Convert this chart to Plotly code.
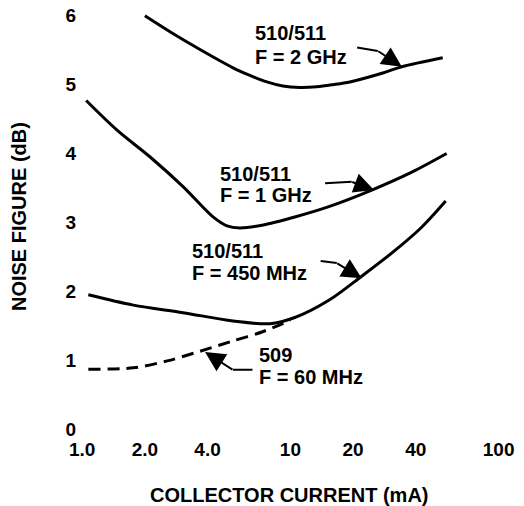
import numpy as np
import plotly.graph_objects as go

# ---- data (collector current in mA, noise figure in dB) ----
ic_2ghz = [2.0, 2.70, 3.68, 5.30, 6.39, 7.71, 9.20, 11.1, 13.4, 16.0, 19.3, 27.8, 34.3, 53.9]
nf_2ghz = [6.0, 5.75, 5.51, 5.245, 5.135, 5.04, 4.98, 4.96, 4.97, 5.00, 5.04, 5.17, 5.26, 5.39]

ic_1ghz = [1.045, 1.47, 2.12, 3.05, 4.25, 4.96, 5.72, 7.30, 10.5, 15.3, 24.6, 38.3, 56.3]
nf_1ghz = [4.77, 4.34, 3.95, 3.52, 3.08, 2.95, 2.92, 2.96, 3.08, 3.23, 3.47, 3.73, 4.00]

ic_450 = [1.07, 1.76, 3.05, 5.30, 7.97, 10.5, 15.3, 22.0, 31.7, 42.7, 55.7]
nf_450 = [1.95, 1.80, 1.69, 1.57, 1.53, 1.62, 1.87, 2.22, 2.59, 2.93, 3.31]

ic_509 = [1.07, 1.76, 2.56, 3.68, 5.30, 7.30, 10.0]
nf_509 = [0.87, 0.89, 0.99, 1.13, 1.28, 1.41, 1.58]

x_tickvals = [1, 2, 4, 10, 20, 40, 100]
x_ticktext = ["1.0", "2.0", "4.0", "10", "20", "40", "100"]
y_tickvals = [0, 1, 2, 3, 4, 5, 6]

# curve labels: (text, current at left edge, noise figure at line centre)
labels = [
    ("510/511", 6.61, 5.75), ("F = 2 GHz", 6.61, 5.40),
    ("510/511", 4.49, 3.71), ("F = 1 GHz", 4.49, 3.40),
    ("510/511", 3.30, 2.58), ("F = 450 MHz", 3.30, 2.27),
    ("509", 6.91, 1.08), ("F = 60 MHz", 6.91, 0.75),
]
# callout arrows: tail -> bend -> head (current mA, NF dB)
callouts = [
    [(20.8, 5.54), (26.3, 5.49), (34.3, 5.26)],
    [(14.6, 3.57), (19.7, 3.59), (25.2, 3.47)],
    [(13.9, 2.44), (16.7, 2.41), (22.0, 2.19)],
    [(6.61, 0.86), (5.30, 0.86), (3.89, 1.12)],
]

FONT = "Liberation Sans"

fig = go.Figure()
series = [
    (ic_2ghz, nf_2ghz, "solid"),
    (ic_1ghz, nf_1ghz, "solid"),
    (ic_450, nf_450, "solid"),
    (ic_509, nf_509, "12px,7px"),
]
for xs, ys, dash in series:
    fig.add_trace(go.Scatter(
        x=xs, y=ys, mode="lines",
        line=dict(color="black", width=3, shape="spline", smoothing=0.9, dash=dash),
        showlegend=False, hoverinfo="skip"))

annotations = []
for text, xv, yv in labels:
    annotations.append(dict(
        text=text, x=np.log10(xv), y=yv, xref="x", yref="y",
        xanchor="left", yanchor="middle", showarrow=False,
        font=dict(family=FONT, size=20, color="black", weight="bold")))

for (t, b, h) in callouts:
    annotations.append(dict(
        text="", x=np.log10(b[0]), y=b[1], ax=np.log10(t[0]), ay=t[1],
        xref="x", yref="y", axref="x", ayref="y", borderpad=0, font=dict(size=1),
        showarrow=True, arrowhead=0, arrowwidth=2, arrowcolor="black"))
    annotations.append(dict(
        text="", x=np.log10(h[0]), y=h[1], ax=np.log10(b[0]), ay=b[1],
        xref="x", yref="y", axref="x", ayref="y", borderpad=0, font=dict(size=1),
        showarrow=True, arrowhead=2, arrowsize=2, arrowwidth=2, arrowcolor="black"))

annotations.append(dict(
    text="COLLECTOR CURRENT (mA)", x=0.493, y=-0.1348, xref="paper", yref="paper",
    xanchor="center", yanchor="middle", showarrow=False,
    font=dict(family=FONT, size=20, color="black", weight="bold")))
annotations.append(dict(
    text="NOISE FIGURE (dB)", x=-0.133, y=0.5058, xref="paper", yref="paper",
    xanchor="center", yanchor="middle", showarrow=False, textangle=-90,
    font=dict(family=FONT, size=20, color="black", weight="bold")))

fig.update_layout(
    width=524, height=506,
    margin=dict(l=77, r=15, t=2, b=70),
    paper_bgcolor="white", plot_bgcolor="white",
    showlegend=False,
    annotations=annotations,
)
tickfont = dict(family=FONT, size=19, color="black", weight="bold")
fig.update_xaxes(type="log", range=[-0.025, 2.05], tickvals=x_tickvals, ticktext=x_ticktext,
                 showgrid=False, zeroline=False, showline=False, ticks="", tickfont=tickfont)
fig.update_yaxes(range=[-0.1, 6.2], tickvals=y_tickvals, showgrid=False, zeroline=False,
                 showline=False, ticks="", tickfont=tickfont)

fig.write_html("out.html")
